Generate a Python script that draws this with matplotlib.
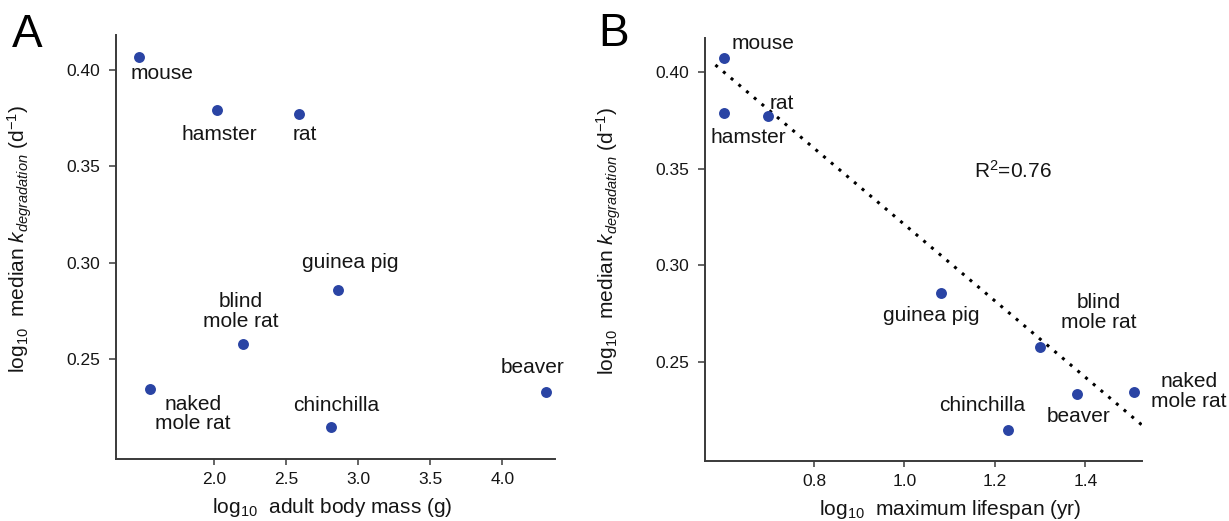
import numpy as np
import matplotlib
matplotlib.use("Agg")
import matplotlib.pyplot as plt
from matplotlib.ticker import FormatStrFormatter

plt.rcParams['font.family'] = ['Liberation Sans', 'DejaVu Sans']
plt.rcParams['mathtext.fontset'] = 'custom'
plt.rcParams['mathtext.rm'] = 'Liberation Sans'
plt.rcParams['mathtext.it'] = 'Liberation Sans:italic'

# data
species = ['mouse', 'hamster', 'rat', 'guinea pig', 'blind\nmole rat',
           'naked\nmole rat', 'chinchilla', 'beaver']
body_mass = [1.476, 2.019, 2.59, 2.861, 2.201, 1.551, 2.811, 4.304]     # log10 g
lifespan = [0.602, 0.602, 0.699, 1.081, 1.300, 1.507, 1.230, 1.381]     # log10 yr
kdeg = [0.407, 0.379, 0.377, 0.2857, 0.2578, 0.2344, 0.2148, 0.2330]    # log10 median k

fit_slope = -0.1977
fit_intercept = 0.5187
fit_range = [0.582, 1.529]
r2_text = r'R$^2$=0.76'

# label offsets in pixels (dx, dy up)
offs_a = [(23, -17), (2, -24), (6, -20), (12, 28), (-3, 32), (43, -25), (5, 21), (-14, 24)]
offs_b = [(39, 15), (24, -25), (14, 13), (-10, -23), (59, 34), (55, 0), (-26, 24), (2, -22)]

dot_color = '#2a44a4'
txt_color = '#151515'
spine_color = '#3a3a3a'

W, H = 1229, 521
fig = plt.figure(figsize=(W / 100, H / 100), dpi=100)
axA = fig.add_axes([116 / W, (H - 459) / H, 439 / W, 424 / H])
axB = fig.add_axes([705 / W, (H - 461) / H, 437 / W, 423 / H])

ylabel = r'log$_{10}$  median $k_{degradation}$ (d$^{\mathrm{-1}}$)'


def style(ax):
    for s in ['top', 'right']:
        ax.spines[s].set_visible(False)
    for s in ['left', 'bottom']:
        ax.spines[s].set_color(spine_color)
        ax.spines[s].set_linewidth(1.4)
    ax.tick_params(axis='y', length=5.3, width=1.1, color=spine_color,
                   labelsize=12.5, pad=6, labelcolor=txt_color)
    ax.tick_params(axis='x', length=4, width=1.1, color=spine_color,
                   labelsize=12.5, pad=5, labelcolor=txt_color)
    ax.set_yticks([0.25, 0.30, 0.35, 0.40])
    ax.yaxis.set_major_formatter(FormatStrFormatter('%.2f'))
    ax.xaxis.set_major_formatter(FormatStrFormatter('%.1f'))
    ax.set_ylabel(ylabel, fontsize=15, color=txt_color)
    ax.yaxis.set_label_coords(-0.187, 0.52)


def label_points(ax, xs, offs):
    for name, x, y, (dx, dy) in zip(species, xs, kdeg, offs):
        ax.annotate(name, (x, y), xytext=(dx, dy), textcoords='offset pixels',
                    ha='center', va='center', fontsize=15, color=txt_color,
                    linespacing=1.05, multialignment='center')


# panel A
axA.scatter(body_mass, kdeg, s=62, color=dot_color, zorder=3, linewidths=0)
axA.set_xlim(1.317, 4.366)
axA.set_ylim(0.198, 0.4182)
axA.set_xticks([2.0, 2.5, 3.0, 3.5, 4.0])
style(axA)
axA.set_xlabel(r'log$_{10}$  adult body mass (g)', fontsize=15, color=txt_color)
axA.xaxis.set_label_coords(0.492, -0.088)
label_points(axA, body_mass, offs_a)

# panel B
fx = np.array(fit_range)
axB.plot(fx, fit_intercept + fit_slope * fx, color='black', lw=2.2,
         linestyle=(0, (1, 2.3)), zorder=2)
axB.scatter(lifespan, kdeg, s=62, color=dot_color, zorder=3, linewidths=0)
axB.set_xlim(0.559, 1.5255)
axB.set_ylim(0.1985, 0.4176)
axB.set_xticks([0.8, 1.0, 1.2, 1.4])
style(axB)
axB.set_xlabel(r'log$_{10}$  maximum lifespan (yr)', fontsize=15, color=txt_color)
axB.xaxis.set_label_coords(0.56, -0.088)
label_points(axB, lifespan, offs_b)
axB.text(1013 / W, 1 - 171 / H, r2_text, transform=fig.transFigure,
         ha='center', va='center', fontsize=15, color=txt_color)

# panel letters
fig.text(12 / W, 1 - 47 / H, 'A', fontsize=33, ha='left', va='baseline', color='black')
fig.text(598 / W, 1 - 45.5 / H, 'B', fontsize=33, ha='left', va='baseline', color='black')

fig.savefig('out.png', dpi=100)
